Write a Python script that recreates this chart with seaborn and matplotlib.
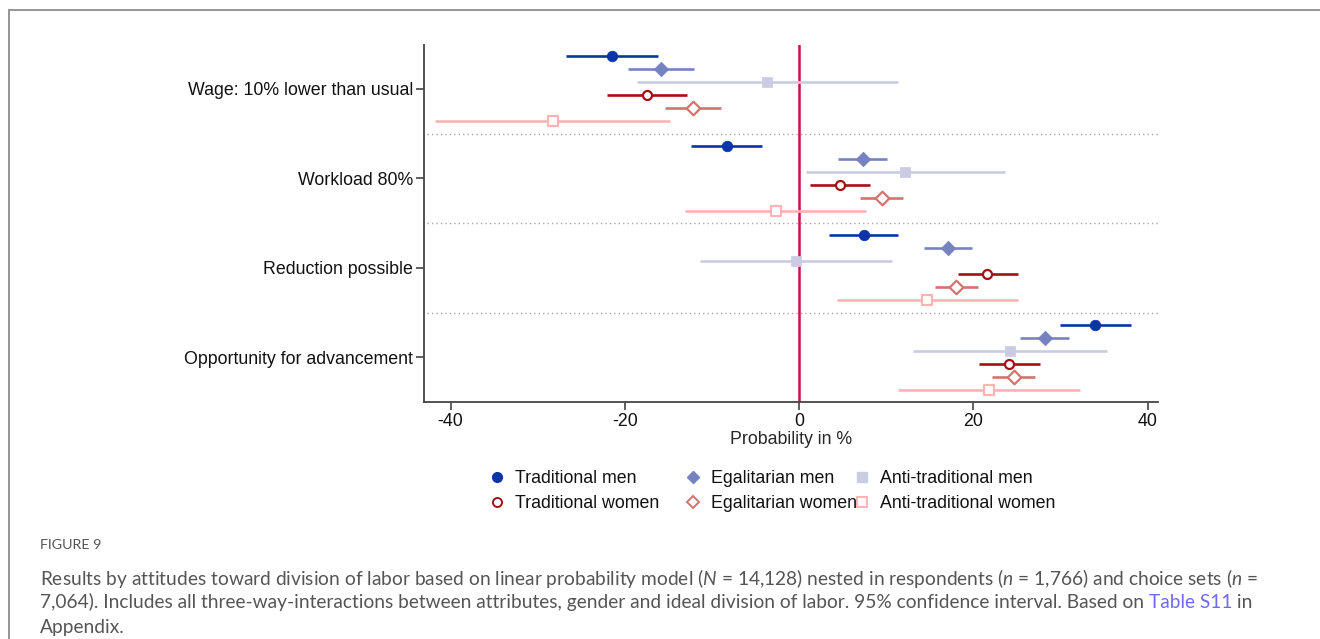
import seaborn as sns
from matplotlib import pyplot as plt
from matplotlib.lines import Line2D
from matplotlib.patches import Rectangle
import pandas as pd

# Attributes (rows) and respondent groups (top to bottom within a row)
categories = ["Wage: 10% lower than usual", "Workload 80%",
              "Reduction possible", "Opportunity for advancement"]
groups = ["Traditional men", "Egalitarian men", "Anti-traditional men",
          "Traditional women", "Egalitarian women", "Anti-traditional women"]

# point estimates, per group, one value per attribute
est_trad_men = [-21.5, -8.3, 7.4, 34.0]
est_egal_men = [-15.9, 7.3, 17.1, 28.2]
est_anti_men = [-3.7, 12.2, -0.4, 24.2]
est_trad_women = [-17.5, 4.7, 21.6, 24.1]
est_egal_women = [-12.2, 9.5, 18.0, 24.7]
est_anti_women = [-28.3, -2.7, 14.7, 21.8]

# 95% CI lower bounds
lo_trad_men = [-26.7, -12.4, 3.4, 30.0]
lo_egal_men = [-19.6, 4.5, 14.3, 25.4]
lo_anti_men = [-18.6, 0.8, -11.4, 13.1]
lo_trad_women = [-22.0, 1.3, 18.2, 20.7]
lo_egal_women = [-15.4, 7.0, 15.6, 22.2]
lo_anti_women = [-41.8, -13.1, 4.4, 11.4]

# 95% CI upper bounds
hi_trad_men = [-16.2, -4.2, 11.4, 38.1]
hi_egal_men = [-12.1, 10.1, 19.9, 31.0]
hi_anti_men = [11.3, 23.6, 10.7, 35.4]
hi_trad_women = [-12.9, 8.2, 25.1, 27.6]
hi_egal_women = [-9.0, 11.9, 20.5, 27.1]
hi_anti_women = [-14.8, 7.7, 25.1, 32.2]

x_ticks = [-40, -20, 0, 20, 40]

ests = [est_trad_men, est_egal_men, est_anti_men, est_trad_women, est_egal_women, est_anti_women]
los = [lo_trad_men, lo_egal_men, lo_anti_men, lo_trad_women, lo_egal_women, lo_anti_women]
his = [hi_trad_men, hi_egal_men, hi_anti_men, hi_trad_women, hi_egal_women, hi_anti_women]

rows = []
for gi, g in enumerate(groups):
    for ci, c in enumerate(categories):
        rows.append({"group": g, "gidx": gi, "category": c, "cidx": ci,
                     "est": ests[gi][ci], "lo": los[gi][ci], "hi": his[gi][ci]})
df = pd.DataFrame(rows)
step = 0.145
df["ypos"] = df["cidx"] + (df["gidx"] - 2.5) * step

# styles
colors = ["#0a35a6", "#7682c0", "#c9cce2", "#a50f15", "#d37470", "#ffb3b3"]
markers = ["o", "D", "s", "o", "D", "s"]
filled = [True, True, True, False, False, False]
msize = [58, 55, 62, 42, 48, 50]
lwidth = [1.9, 1.9, 1.9, 1.9, 1.9, 1.9]
fs = 12.8

sns.set_style("white")
plt.rcParams["font.family"] = ["Liberation Sans", "DejaVu Sans"]

fig = plt.figure(figsize=(13.2, 6.39), dpi=100)
ax = fig.add_axes([424 / 1320, 1 - 402 / 639, (1158 - 424) / 1320, (402 - 45) / 639])

for sep in [0.5, 1.5, 2.5]:
    ax.axhline(sep, xmin=0.004, xmax=1, color="#a8a8a8", lw=1.0, ls=(0, (1, 2.2)), zorder=1)
ax.axvline(0, color="#c2144d", lw=1.8, zorder=2)

for gi, g in enumerate(groups):
    sub = df[df["group"] == g]
    ax.hlines(sub["ypos"], sub["lo"], sub["hi"], color=colors[gi], lw=lwidth[gi], zorder=3)
    if filled[gi]:
        sns.scatterplot(data=sub, x="est", y="ypos", ax=ax, marker=markers[gi], s=msize[gi],
                        color=colors[gi], edgecolor=colors[gi], linewidth=0.5, zorder=4, legend=False)
    else:
        sns.scatterplot(data=sub, x="est", y="ypos", ax=ax, marker=markers[gi], s=msize[gi],
                        facecolor="white", edgecolor=colors[gi], linewidth=1.6, zorder=4, legend=False)

ax.set_xlim(-43.05, 41.2)
ax.set_ylim(3.5, -0.49)
ax.set_xticks(x_ticks)
ax.set_xticklabels([str(v) for v in x_ticks])
ax.set_yticks(range(len(categories)))
ax.set_yticklabels(categories)
ax.set_xlabel("Probability in %", fontsize=fs, labelpad=1)
ax.set_ylabel("")
for side in ["top", "right"]:
    ax.spines[side].set_visible(False)
for side in ["left", "bottom"]:
    ax.spines[side].set_color("#444444")
    ax.spines[side].set_linewidth(1.3)
ax.tick_params(axis="both", which="both", direction="out", length=6, width=1.2,
               color="#444444", labelsize=fs, labelcolor="#111111", pad=2,
               left=True, bottom=True)

# legend: one column per attitude (men on top, women below)
handles = []
for gi, g in enumerate(groups):
    if filled[gi]:
        h = Line2D([], [], ls="none", marker=markers[gi], color=colors[gi],
                   markersize=7 if markers[gi] != "D" else 6.5)
    else:
        h = Line2D([], [], ls="none", marker=markers[gi], markerfacecolor="white",
                   markeredgecolor=colors[gi], markeredgewidth=1.4, markersize=6.5)
    handles.append(h)
col_x = [486, 682, 851]
for k in range(3):
    leg = fig.legend([handles[k], handles[k + 3]], [groups[k], groups[k + 3]], ncol=1,
                     loc="upper left", bbox_to_anchor=(col_x[k] / 1320, 1 - 470 / 639),
                     frameon=False, fontsize=fs, handletextpad=0.45, labelspacing=0.45,
                     handlelength=1.2, borderpad=0, borderaxespad=0)
    for t in leg.get_texts():
        t.set_color("#111111")

# outer frame
fig.patches.append(Rectangle((9 / 1320, -0.1), 1.2, 1 - 9.5 / 639 + 0.1, transform=fig.transFigure,
                             fill=False, edgecolor="#8c8c8c", lw=1.3))

# caption
cap_color = "#555555"
cap_fs = 13.8
plt.rcParams["mathtext.fontset"] = "custom"
plt.rcParams["mathtext.it"] = "Lato:italic"
plt.rcParams["mathtext.rm"] = "Lato"
fig.text(40 / 1320, 1 - 545 / 639, "FIGURE 9", fontsize=10.3, color=cap_color,
         family="Lato", va="center")
line1 = (r"Results by attitudes toward division of labor based on linear probability model ($\it{N}$ = 14,128) "
         r"nested in respondents ($\it{n}$ = 1,766) and choice sets ($\it{n}$ =")
fig.text(40 / 1320, 1 - 578 / 639, line1, fontsize=cap_fs, color=cap_color, family="Lato", va="center")
t2 = fig.text(40 / 1320, 1 - 602 / 639,
              "7,064). Includes all three-way-interactions between attributes, gender and ideal division of labor. "
              "95% confidence interval. Based on ",
              fontsize=cap_fs, color=cap_color, family="Lato", va="center")
fig.canvas.draw()
r = fig.canvas.get_renderer()
bb = t2.get_window_extent(r)
t3 = fig.text(bb.x1 / fig.bbox.width, 1 - 602 / 639, "Table S11", fontsize=cap_fs, color="#6f6af5",
              family="Lato", va="center")
bb3 = t3.get_window_extent(r)
fig.text(bb3.x1 / fig.bbox.width, 1 - 602 / 639, " in", fontsize=cap_fs, color=cap_color,
         family="Lato", va="center")
fig.text(40 / 1320, 1 - 627 / 639, "Appendix.", fontsize=cap_fs, color=cap_color, family="Lato", va="center")

fig.savefig("out.png", dpi=100)
